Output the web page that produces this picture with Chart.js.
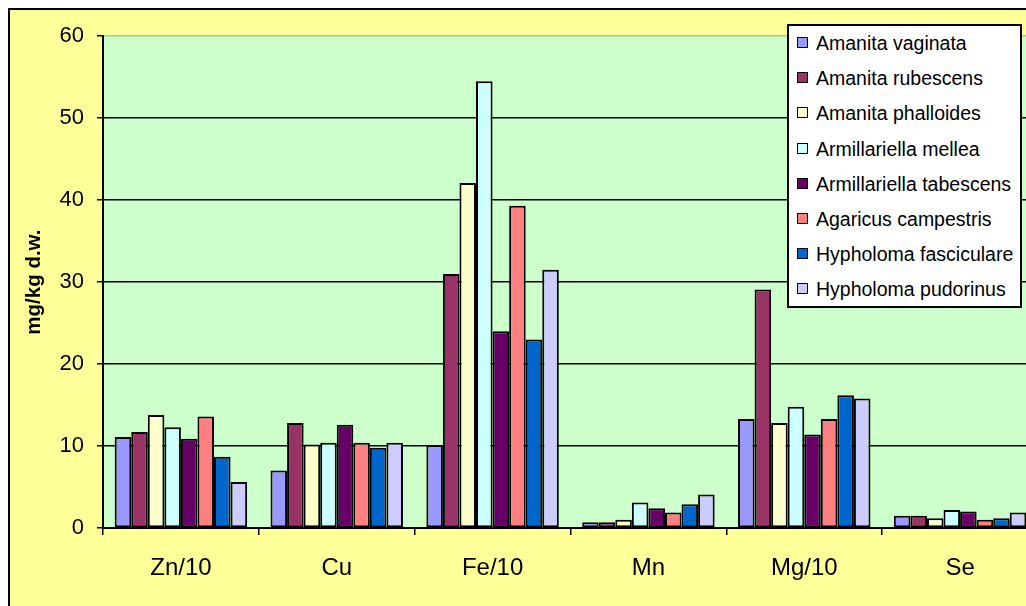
<!DOCTYPE html>
<html>
<head>
<meta charset="utf-8">
<script src="https://cdn.jsdelivr.net/npm/chart.js@4.4.1/dist/chart.umd.min.js"></script>
<style>
  html, body { margin: 0; padding: 0; background: #fff; overflow: hidden; width: 1026px; height: 606px; }
  #frame {
    position: absolute; left: 8px; top: 8px; width: 1044px; height: 604px;
    background: #FFFF99; border: 2px solid #000;
  }
  #chart { position: absolute; left: 0; top: 0; }
  #legend {
    position: absolute; left: 787px; top: 24px; width: 231px; height: 280px;
    background: #fff; border: 2px solid #000;
    font-family: "Liberation Sans", Arial, sans-serif; font-size: 19.5px; color: #000;
  }
  .item { position: absolute; left: 8px; height: 22px; line-height: 22px; white-space: nowrap; }
  .swatch {
    display: inline-block; width: 9px; height: 9px; border: 1.5px solid #000;
    margin-right: 8px; vertical-align: 2px;
  }
</style>
</head>
<body>
<div id="frame">
  <canvas id="chart" width="1044" height="604"></canvas>
</div>
<div id="legend"></div>
<script>
const categories = ["Zn/10", "Cu", "Fe/10", "Mn", "Mg/10", "Se"];
const yTicks = [0, 10, 20, 30, 40, 50, 60];

const speciesNames = [
  "Amanita vaginata",
  "Amanita rubescens",
  "Amanita phalloides",
  "Armillariella mellea",
  "Armillariella tabescens",
  "Agaricus campestris",
  "Hypholoma fasciculare",
  "Hypholoma pudorinus"
];

const amanitaVaginata = [11.1, 7.0, 10.1, 0.7, 13.3, 1.5];
const amanitaRubescens = [11.7, 12.8, 31.0, 0.7, 29.1, 1.5];
const amanitaPhalloides = [13.8, 10.2, 42.1, 1.0, 12.8, 1.2];
const armillariellaMellea = [12.3, 10.4, 54.5, 3.1, 14.8, 2.2];
const armillariellaTabescens = [10.9, 12.6, 24.0, 2.4, 11.4, 2.0];
const agaricusCampestris = [13.6, 10.4, 39.3, 1.9, 13.3, 1.0];
const hypholomaFasciculare = [8.7, 9.8, 23.0, 2.9, 16.2, 1.2];
const hypholomaPudorinus = [5.6, 10.4, 31.5, 4.1, 15.8, 1.9];

const seriesValues = [
  amanitaVaginata, amanitaRubescens, amanitaPhalloides, armillariellaMellea,
  armillariellaTabescens, agaricusCampestris, hypholomaFasciculare, hypholomaPudorinus
];

const palette = ["#9999FF", "#993366", "#FFFFCC", "#CCFFFF", "#660066", "#FF8080", "#0066CC", "#CCCCFF"];

const fontFamily = "'Liberation Sans', Arial, sans-serif";

const plotBackground = {
  id: "plotBackground",
  beforeDraw(chart) {
    const { ctx, chartArea } = chart;
    ctx.save();
    ctx.fillStyle = "#CCFFCC";
    ctx.fillRect(chartArea.left, chartArea.top, chartArea.right - chartArea.left, chartArea.bottom - chartArea.top);
    ctx.restore();
  }
};

const datasets = speciesNames.map((name, i) => ({
  label: name,
  data: seriesValues[i],
  backgroundColor: palette[i],
  borderColor: "#000",
  borderWidth: 2,
  borderSkipped: false,
  categoryPercentage: 0.85,
  barPercentage: 1.0
}));

new Chart(document.getElementById("chart"), {
  type: "bar",
  data: { labels: categories, datasets },
  options: {
    responsive: false,
    animation: false,
    layout: { padding: { top: 26, right: 16, left: 0, bottom: 0 } },
    plugins: {
      legend: { display: false },
      tooltip: { enabled: false }
    },
    scales: {
      x: {
        grid: {
          offset: true,
          drawOnChartArea: false,
          drawTicks: true,
          tickLength: 7,
          color: "#000",
          lineWidth: 1.5
        },
        border: { color: "#000", width: 2 },
        ticks: {
          color: "#000",
          padding: 19,
          font: { family: fontFamily, size: 24 }
        },
        afterFit(scale) { scale.height = 86; }
      },
      y: {
        min: 0,
        max: 60,
        afterBuildTicks(scale) { scale.ticks = yTicks.map((v) => ({ value: v })); },
        grid: {
          color: (c) => (c.tick && c.tick.value === 60 ? "#9fc9a6" : "#000"),
          lineWidth: 1.5,
          tickLength: 6,
          tickColor: "#000"
        },
        border: { color: "#000", width: 2 },
        ticks: {
          color: "#000",
          padding: 13,
          font: { family: fontFamily, size: 22 }
        },
        title: {
          display: true,
          text: "mg/kg d.w.",
          color: "#000",
          padding: { top: 12, bottom: 0 },
          font: { family: fontFamily, size: 20.5, weight: "bold" }
        },
        afterFit(scale) { scale.width = 93; }
      }
    }
  },
  plugins: [plotBackground]
});

const legendBox = document.getElementById("legend");
speciesNames.forEach((name, i) => {
  const item = document.createElement("div");
  item.className = "item";
  item.style.top = (6 + i * 35.2) + "px";
  const sw = document.createElement("span");
  sw.className = "swatch";
  sw.style.background = palette[i];
  item.appendChild(sw);
  item.appendChild(document.createTextNode(name));
  legendBox.appendChild(item);
});
</script>
</body>
</html>
